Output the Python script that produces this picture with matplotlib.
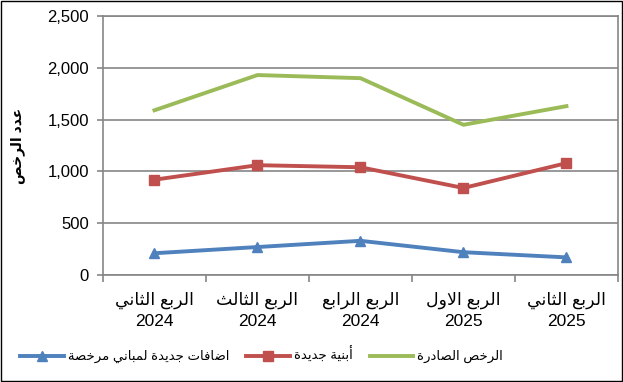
import numpy as np
import matplotlib
matplotlib.use("Agg")
import matplotlib.pyplot as plt
from matplotlib.patches import Rectangle

plt.rcParams['font.family'] = ['Liberation Sans', 'DejaVu Sans']

# data
quarters = ["الربع الثاني", "الربع الثالث", "الربع الرابع", "الربع الاول", "الربع الثاني"]
years = ["2024", "2024", "2024", "2025", "2025"]
issued = [1590, 1930, 1900, 1450, 1630]        # الرخص الصادرة
new_bld = [920, 1060, 1040, 840, 1080]         # أبنية جديدة
additions = [210, 270, 330, 220, 170]          # اضافات جديدة لمباني مرخصة
y_ticks = [0, 500, 1000, 1500, 2000, 2500]

name_issued = "الرخص الصادرة"
name_new = "أبنية جديدة"
name_add = "اضافات جديدة لمباني مرخصة"
y_title = "عدد الرخص"

# small arabic shaper (no arabic_reshaper available): iso, fin, ini, med
forms = {
    'ا': (0xFE8D, 0xFE8E, None, None), 'أ': (0xFE83, 0xFE84, None, None),
    'ب': (0xFE8F, 0xFE90, 0xFE91, 0xFE92), 'ة': (0xFE93, 0xFE94, None, None),
    'ت': (0xFE95, 0xFE96, 0xFE97, 0xFE98), 'ث': (0xFE99, 0xFE9A, 0xFE9B, 0xFE9C),
    'ج': (0xFE9D, 0xFE9E, 0xFE9F, 0xFEA0), 'خ': (0xFEA5, 0xFEA6, 0xFEA7, 0xFEA8),
    'د': (0xFEA9, 0xFEAA, None, None), 'ر': (0xFEAD, 0xFEAE, None, None),
    'ص': (0xFEB9, 0xFEBA, 0xFEBB, 0xFEBC), 'ض': (0xFEBD, 0xFEBE, 0xFEBF, 0xFEC0),
    'ع': (0xFEC9, 0xFECA, 0xFECB, 0xFECC), 'ف': (0xFED1, 0xFED2, 0xFED3, 0xFED4),
    'ل': (0xFEDD, 0xFEDE, 0xFEDF, 0xFEE0), 'م': (0xFEE1, 0xFEE2, 0xFEE3, 0xFEE4),
    'ن': (0xFEE5, 0xFEE6, 0xFEE7, 0xFEE8), 'و': (0xFEED, 0xFEEE, None, None),
    'ي': (0xFEF1, 0xFEF2, 0xFEF3, 0xFEF4),
}
lam_alef = {'ا': (0xFEFB, 0xFEFC), 'أ': (0xFEF7, 0xFEF8)}


def shape(txt):
    out = []
    i = 0
    while i < len(txt):
        c = txt[i]
        if c not in forms:
            out.append(c)
            i += 1
            continue
        prev = txt[i - 1] if i > 0 else ''
        jp = prev in forms and forms[prev][2] is not None
        if c == 'ل' and i + 1 < len(txt) and txt[i + 1] in lam_alef:
            lig = lam_alef[txt[i + 1]]
            out.append(chr(lig[1] if jp else lig[0]))
            i += 2
            continue
        nxt = txt[i + 1] if i + 1 < len(txt) else ''
        jn = forms[c][2] is not None and nxt in forms
        f = forms[c]
        if jp and jn:
            g = f[3]
        elif jp:
            g = f[1]
        elif jn:
            g = f[2]
        else:
            g = f[0]
        out.append(chr(g))
        i += 1
    return ''.join(out)[::-1]


x = np.arange(len(quarters))
fig = plt.figure(figsize=(6.23, 3.82), dpi=100)
ax = fig.add_axes([0.1653, 0.2801, 0.8266, 0.678])

grid_c = '#868686'
ax.plot(x, additions, color='#4F81BD', lw=2.8, marker='^', ms=7, label=shape(name_add))
ax.plot(x, new_bld, color='#C0504D', lw=2.8, marker='s', ms=7, label=shape(name_new))
ax.plot(x, issued, color='#9BBB59', lw=2.8, label=shape(name_issued))

ax.set_xlim(-0.5, len(quarters) - 0.5)
ax.set_ylim(0, 2500)
ax.set_yticks(y_ticks)
ax.set_yticklabels(["{:,}".format(v) for v in y_ticks], fontsize=12)
ax.yaxis.grid(True, color=grid_c, lw=1.2)
ax.set_axisbelow(True)

ax.set_xticks(x)
ax.set_xticklabels([shape(q) + "\n" + y for q, y in zip(quarters, years)], fontsize=12.5,
                   linespacing=1.45)
ax.set_xticks(np.arange(-0.5, len(quarters)), minor=True)
ax.tick_params(axis='x', which='major', length=0, pad=12)
ax.tick_params(axis='x', which='minor', length=5, color=grid_c, width=1.2)
ax.tick_params(axis='y', length=4, color=grid_c, width=1.2, pad=6)
for s in ax.spines.values():
    s.set_color(grid_c)
    s.set_linewidth(1.2)

ax.set_ylabel(shape(y_title), fontsize=10, fontweight='bold', labelpad=16)

h, l = ax.get_legend_handles_labels()
fig.legend(h, l, loc='center', bbox_to_anchor=(0.42, 0.07), ncol=3, frameon=False,
           fontsize=9.5, handlelength=3.3, columnspacing=1.3, handletextpad=0.3)

fig.add_artist(Rectangle((0.001, 0.002), 0.997, 0.995, transform=fig.transFigure,
                         fill=False, ec='black', lw=1))

fig.savefig("out.png", dpi=100)
